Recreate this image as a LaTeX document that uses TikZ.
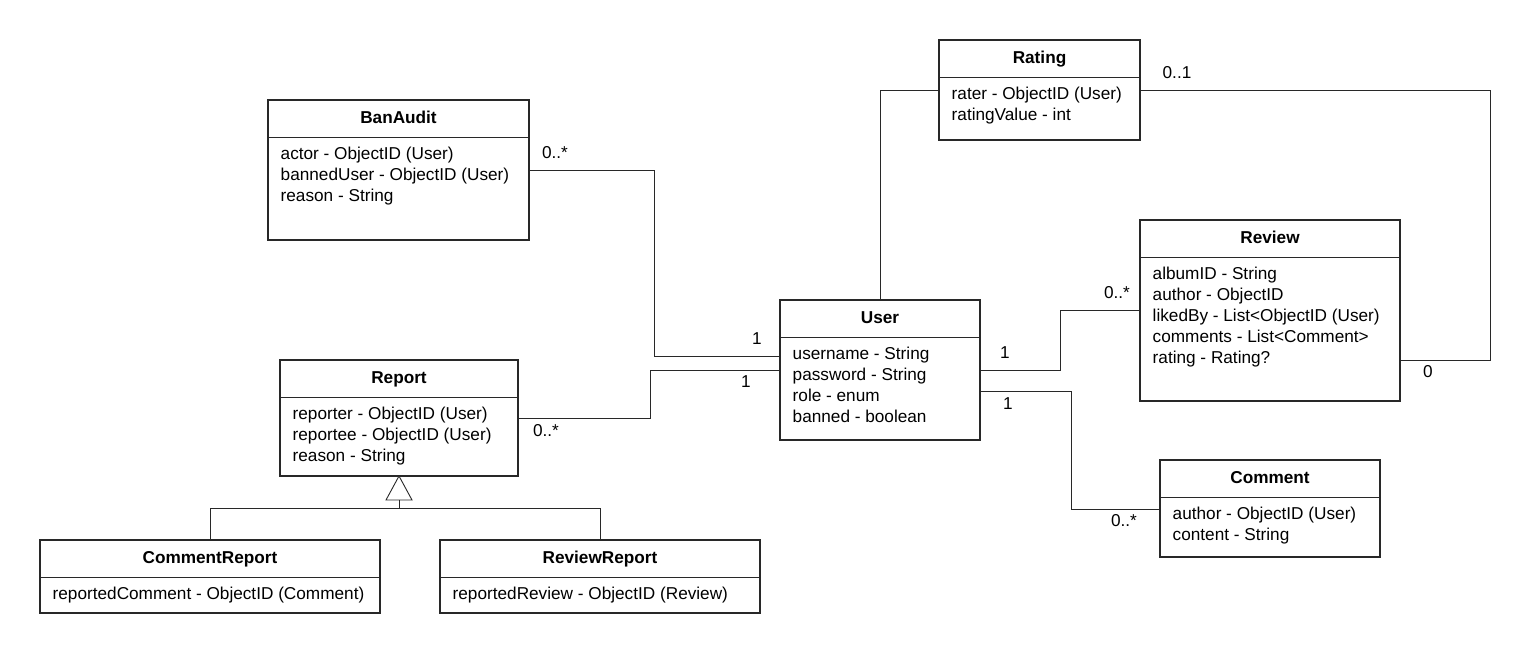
\documentclass[tikz,border=0pt]{standalone}
\usepackage{fontspec}
\setmainfont{Liberation Sans}
\usetikzlibrary{calc}
\definecolor{linec}{RGB}{40,40,40}
\tikzset{
  box/.style={draw=linec, line width=1.8pt, anchor=north west, inner sep=0pt, outer sep=0pt},
  ttl/.style={font=\fontsize{17.2}{21}\selectfont\bfseries, anchor=base, inner sep=0pt},
  attrs/.style={font=\fontsize{17.2}{21}\selectfont, anchor=north west, align=left, inner sep=0pt},
  mult/.style={font=\fontsize{17.2}{21}\selectfont, inner sep=0pt},
  conn/.style={draw=linec, line width=0.9pt},
}
\newcommand\umlbox[7]{%
  \node[box, minimum width=#4pt, minimum height=#5pt] (#1) at (#2,#3) {};
  \draw[linec, line width=1.8pt] ([yshift=-37.5pt]#1.north west) -- ([yshift=-37.5pt]#1.north east);
  \node[ttl] (#1-t) at ([yshift=-23pt]#1.north) {#6};
  \node[attrs] (#1-a) at ([xshift=12.5pt,yshift=-44.3pt]#1.north west) {\strut#7};
}
\begin{document}
\begin{tikzpicture}[x=1pt,y=-1pt]
\useasboundingbox[fill=white] (0,0) rectangle (1530,654);

\umlbox{ba}{268}{100}{261}{140}{BanAudit}{actor - ObjectID (User)\\bannedUser - ObjectID (User)\\reason - String}
\umlbox{rep}{280}{360}{238}{116}{Report}{reporter - ObjectID (User)\\reportee - ObjectID (User)\\reason - String}
\umlbox{user}{780}{300}{200}{140}{User}{username - String\\password - String\\role - enum\\banned - boolean}
\umlbox{rating}{939}{40}{201}{100}{Rating}{rater - ObjectID (User)\\ratingValue - int}
\umlbox{review}{1140}{220}{260}{181}{Review}{albumID - String\\author - ObjectID\\likedBy - List<ObjectID (User)\\comments - List<Comment>\\rating - Rating?}
\umlbox{comment}{1160}{460}{220}{97}{Comment}{author - ObjectID (User)\\content - String}
\umlbox{cr}{40}{540}{340}{73}{CommentReport}{reportedComment - ObjectID (Comment)}
\umlbox{rr}{440}{540}{320}{73}{ReviewReport}{reportedReview - ObjectID (Review)}

% associations
\draw[conn] ([yshift=-70pt]ba.north east) -- ++(125,0) |- ([yshift=-56pt]user.north west);
\draw[conn] ([yshift=-58pt]rep.north east) -- ++(132,0) |- ([yshift=-70pt]user.north west);
\draw[conn] (user.north) |- ([yshift=-50pt]rating.north west);
\draw[conn] ([yshift=-50pt]rating.north east) -- ++(350,0) |- ([yshift=-140pt]review.north east);
\draw[conn] ([yshift=-70pt]user.north east) -- ++(80,0) |- ([yshift=-90pt]review.north west);
\draw[conn] ([yshift=-91pt]user.north east) -- ++(91,0) |- ([yshift=-49pt]comment.north west);

% multiplicities
\node[mult] (m1) at (555,153) {0..*};
\node[mult] (m2) at (757,339) {1};
\node[mult] (m3) at (546,431) {0..*};
\node[mult] (m4) at (746,382) {1};
\node[mult] (m5) at (1177,73) {0..1};
\node[mult] (m6) at (1428,372) {0};
\node[mult] (m7) at (1005,353) {1};
\node[mult] (m8) at (1117,293) {0..*};
\node[mult] (m9) at (1008,404) {1};
\node[mult] (m10) at (1124,521) {0..*};

% generalization
\coordinate (tb) at ($(rep.south)+(0,24)$);
\coordinate (hj) at ($(rep.south)+(0,32)$);
\draw[conn, fill=white] (rep.south) -- ($(tb)+(-13,0)$) -- ($(tb)+(13,0)$) -- cycle;
\draw[conn] (tb) -- (hj);
\draw[conn] (cr.north -| 210,0) |- (hj) -| (rr.north -| 600,0);
\end{tikzpicture}
\end{document}
